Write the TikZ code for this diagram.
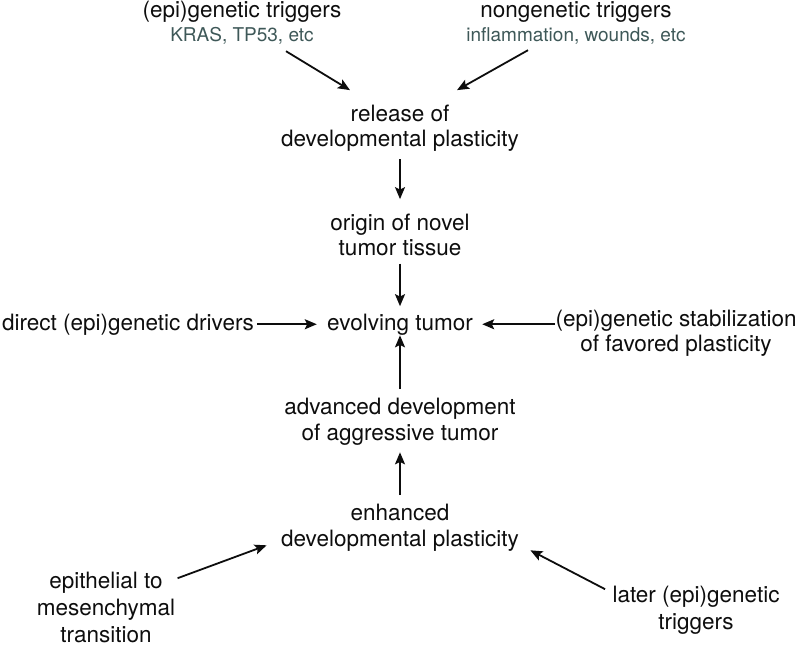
\documentclass[tikz,border=0pt]{standalone}
\usepackage{fontspec}
\setmainfont{TeX Gyre Heros}
\usepackage{xcolor}
\usetikzlibrary{arrows.meta}
\definecolor{ink}{gray}{0.05}
\definecolor{subink}{HTML}{3E5858}
\newcommand{\cuetext}[1]{{\fontsize{9.5}{12}\selectfont\color{subink}#1}}
\tikzset{
  stage/.style={align=center, inner sep=0pt, anchor=base,
                font=\fontsize{11.25}{13}\selectfont, text=ink},
  flow/.style={-{Stealth[length=6pt, width=5pt, inset=1.2pt]}, draw=ink,
               line width=0.9pt, shorten <=4pt},
}

\begin{document}
\begin{tikzpicture}[x=0.5pt, y=-0.5pt]
    \useasboundingbox (0,0) rectangle (802,653);
    % triggers on top (base = last line)
    \node[stage] (epitrig) at (242,41) {(epi)genetic triggers\\[-1pt]\cuetext{KRAS, TP53, etc}};
    \node[stage] (nongen)  at (576,41) {nongenetic triggers\\[-1pt]\cuetext{inflammation, wounds, etc}};
    % main column
    \node[stage] (release)  at (400,146) {release of\\[-0.5pt]developmental plasticity};
    \node[stage] (origin)   at (400,255) {origin of novel\\[-0.5pt]tumor tissue};
    \node[stage] (evolve)   at (400,330) {evolving tumor};
    \node[stage] (advanced) at (400,440) {advanced development\\of aggressive tumor};
    \node[stage] (enhanced) at (400,546) {enhanced\\developmental plasticity};
    % side inputs
    \node[stage] (direct) at (128,330) {direct (epi)genetic drivers};
    \node[stage] (stabil) at (676,351) {(epi)genetic stabilization\\[-0.5pt]of favored plasticity};
    \node[stage] (emt)    at (106,642) {epithelial to\\[0.5pt]mesenchymal\\[0.5pt]transition};
    \node[stage] (later)  at (696,629) {later (epi)genetic\\[0.5pt]triggers};

    \draw[flow, shorten <=0pt] ([shift={(44,7)}]epitrig.south) -- ([shift={(-50,-14)}]release.north);
    \draw[flow, shorten <=0pt] ([shift={(-48,6)}]nongen.south) -- ([shift={(57,-14)}]release.north);
    \draw[flow, shorten >=7pt] (release) -- (origin);
    \draw[flow, shorten >=3.5pt] (origin) -- (evolve);
    \draw[flow, shorten <=1.5pt, shorten >=5pt] (direct.east) -- (evolve.west);
    \draw[flow, shorten <=0pt, shorten >=4.5pt] (stabil.west |- evolve.east) -- (evolve.east);
    \draw[flow] (advanced) -- (evolve);
    \draw[flow, shorten >=3.5pt] (enhanced) -- (advanced);
    \draw[flow, shorten <=0pt] ([shift={(2,7)}]emt.north east) -- ([shift={(-14,-6)}]enhanced.south west);
    \draw[flow, shorten <=0pt] ([shift={(-7,4)}]later.north west) -- ([shift={(11,-1)}]enhanced.south east);
\end{tikzpicture}
\end{document}
